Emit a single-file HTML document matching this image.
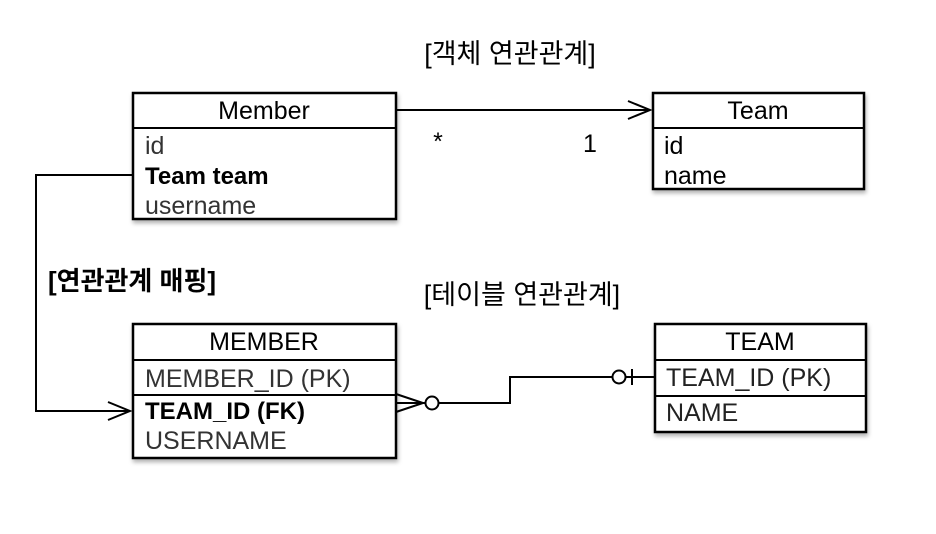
<!DOCTYPE html>
<html><head><meta charset="utf-8"><style>
html,body{margin:0;padding:0;background:#fff;width:936px;height:534px;overflow:hidden}
svg text{font-family:"Liberation Sans","Noto Sans CJK KR",sans-serif}
</style></head><body>
<svg width="936" height="534" viewBox="0 0 936 534" xmlns="http://www.w3.org/2000/svg">
<defs><filter id="sh" x="-5%" y="-5%" width="115%" height="125%"><feDropShadow dx="1" dy="3" stdDeviation="2" flood-color="#000" flood-opacity="0.3"/></filter></defs>
<g fill="#fff" stroke="#000" stroke-width="2.5">
<rect x="133" y="93" width="263" height="126" filter="url(#sh)"/>
<rect x="653" y="93" width="211" height="96" filter="url(#sh)"/>
<rect x="133" y="324" width="263" height="134" filter="url(#sh)"/>
<rect x="655" y="324" width="211" height="108" filter="url(#sh)"/>
</g>
<g stroke="#000" stroke-width="2" fill="none">
<line x1="133" y1="128" x2="396" y2="128"/>
<line x1="653" y1="128" x2="864" y2="128"/>
<line x1="133" y1="360" x2="396" y2="360"/>
<line x1="133" y1="395" x2="396" y2="395"/>
<line x1="655" y1="360" x2="866" y2="360"/>
<line x1="655" y1="396" x2="866" y2="396"/>
<line x1="396" y1="110" x2="650" y2="110"/>
<polyline points="628,101 650,110 628,119"/>
<polyline points="133,175 36,175 36,411 130,411"/>
<polyline points="108,402 130,411 108,420"/>
<polyline points="396,394 423,403 396,412"/>
<line x1="396" y1="403" x2="426" y2="403"/>
<circle cx="432" cy="403" r="6.5"/>
<polyline points="439,403 510,403 510,377 613,377"/>
<circle cx="619" cy="377" r="6.5"/>
<line x1="626" y1="377" x2="655" y2="377"/>
<line x1="632" y1="369" x2="632" y2="385"/>
</g>
<g font-size="25" fill="#000">
<text x="264" y="119" text-anchor="middle">Member</text>
<text x="145" y="154" fill="#333">id</text>
<text x="145" y="184" font-weight="bold" font-size="24">Team team</text>
<text x="145" y="214" fill="#333">username</text>
<text x="758" y="119" text-anchor="middle">Team</text>
<text x="664" y="154">id</text>
<text x="664" y="184">name</text>
<text x="264" y="350" text-anchor="middle">MEMBER</text>
<text x="145" y="387" fill="#333">MEMBER_ID (PK)</text>
<text x="145" y="419" font-weight="bold" font-size="24">TEAM_ID (FK)</text>
<text x="145" y="449" fill="#333">USERNAME</text>
<text x="760" y="350" text-anchor="middle">TEAM</text>
<text x="666" y="386" fill="#222">TEAM_ID (PK)</text>
<text x="666" y="421" fill="#222">NAME</text>
<text x="438" y="150" text-anchor="middle">*</text>
<text x="590" y="152" text-anchor="middle">1</text>
<text x="510" y="63" text-anchor="middle" font-size="27">[객체 연관관계]</text>
<text x="48" y="290" font-weight="bold" font-size="26">[연관관계 매핑]</text>
<text x="522" y="304" text-anchor="middle" font-size="27">[테이블 연관관계]</text>
</g>
</svg>
</body></html>
